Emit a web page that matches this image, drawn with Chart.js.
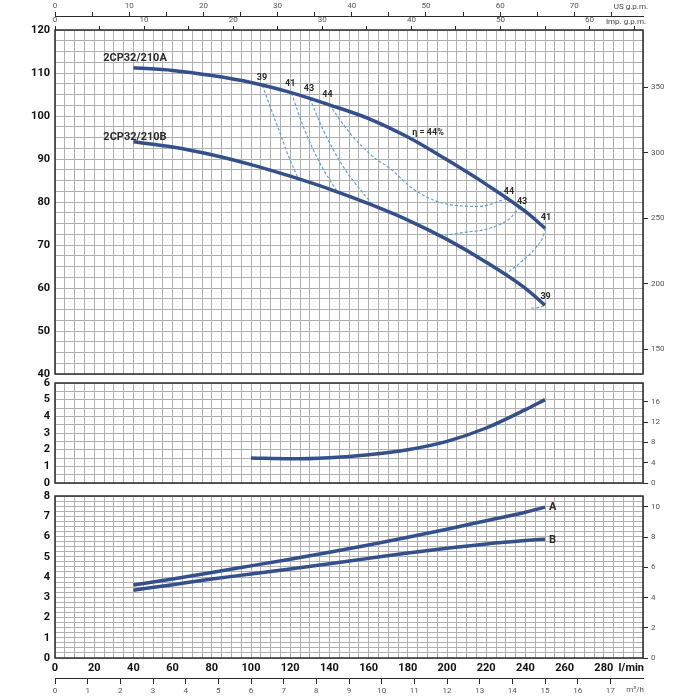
<!DOCTYPE html>
<html lang="en">
<head>
<meta charset="utf-8" />
<title>2CP32/210 performance curves</title>
<script src="https://cdn.jsdelivr.net/npm/chart.js@4.4.1/dist/chart.umd.min.js"></script>
<style>
  body { margin: 0; background: #fff; }
  .panel { position: absolute; left: 0; width: 700px; }
</style>
</head>
<body>
<div class="panel" style="top:0px"><canvas id="chart_head" width="700" height="385"></canvas></div>
<div class="panel" style="top:375px"><canvas id="chart_npsh" width="700" height="115"></canvas></div>
<div class="panel" style="top:488px"><canvas id="chart_power" width="700" height="212"></canvas></div>

<script>
// flow rate, l/min
const flow = [40, 60, 80, 100, 120, 140, 160, 180, 200, 220, 240, 250];
// head, m
const headA = [111.2, 110.6, 109.4, 107.8, 105.5, 102.6, 99.4, 95.1, 89.8, 84.1, 77.8, 73.9];
const headB = [94.0, 92.8, 91.0, 88.7, 86.0, 83.0, 79.6, 75.8, 71.3, 66.0, 59.9, 56.0];
// NPSH, m
const npshFlow = [100, 120, 140, 160, 180, 200, 220, 240, 250];
const npsh = [1.5, 1.45, 1.52, 1.7, 2.0, 2.5, 3.3, 4.4, 5.0];
// absorbed power, kW
const powerA = [3.6, 3.9, 4.22, 4.55, 4.88, 5.22, 5.58, 5.96, 6.36, 6.78, 7.2, 7.45];
const powerB = [3.35, 3.62, 3.9, 4.15, 4.4, 4.65, 4.92, 5.18, 5.42, 5.63, 5.8, 5.87];

// iso-efficiency lines, [l/min, m]
const eff39L = [[105.8, 107.1], [114.8, 96], [119.9, 89.8], [124.2, 85.4]];
const eff41L = [[120.7, 105.3], [126.7, 97.5], [135.2, 89], [143.7, 82.6]];
const eff43L = [[130.1, 104.0], [136.9, 96.7], [147.1, 88.2], [162.4, 79.1]];
const eff44 = [[140, 102.6], [150.5, 96], [162.4, 90.5], [171, 87.8], [182.8, 83], [198.1, 79.7], [216.8, 79], [230.4, 80.8]];
const eff43R = [[196.4, 72.1], [208.3, 72.9], [221.9, 73.9], [232.1, 76.2], [237, 78.7]];
const eff41R = [[229.6, 63.1], [238.9, 66.5], [245.7, 69.6], [249.5, 72.7], [250, 73.9]];
const eff39R = [[243, 55.3], [247, 55.5], [250, 56]];

// labels on the head chart
const effLabelText = ["39", "41", "43", "44", "\u03b7 = 44%", "44", "43", "41", "39"];
const effLabelQ = [105.6, 120, 129.6, 139, 190.3, 231.6, 238.3, 250.5, 250.3];
const effLabelH = [108.8, 107.4, 106.3, 104.9, 96, 82.3, 80, 76.3, 58];

// unit conversions for the secondary axes
const FT = 3.28084;
const USG = 3.785411784;
const IMPG = 4.54609;
const HP = 1.34102;

const INK = "#2b2b2b";
const GRID = "#b0b0b0";
const CURVE = "#33508c";
const DASH = "#5ea2d8";
const narrow = "'Liberation Sans Narrow', Roboto, sans-serif";

// fixed axis sizes, and no extra room for overflowing labels
const fixW = (w) => (s) => { s.width = w; s.paddingTop = 0; s.paddingBottom = 0; };
const fixH = (h) => (s) => { s.height = h; s.paddingLeft = 0; s.paddingRight = 0; };

const pts = (xs, ys) => xs.map((x, i) => ({ x: x, y: ys[i] }));
const pairs = (arr) => arr.map((p) => ({ x: p[0], y: p[1] }));

function curve(data, extra) {
    return Object.assign({
        data: data,
        borderColor: CURVE,
        borderWidth: 3.5,
        pointRadius: 0,
        cubicInterpolationMode: "monotone",
        fill: false,
    }, extra || {});
}

function dashed(data) {
    return curve(data, { borderColor: DASH, borderWidth: 1.2, borderDash: [3, 2] });
}

const framePlugin = {
    id: "frame",
    afterDraw(chart) {
        const a = chart.chartArea;
        const ctx = chart.ctx;
        ctx.save();
        ctx.strokeStyle = INK;
        ctx.lineWidth = 1.5;
        ctx.strokeRect(a.left, a.top, a.right - a.left, a.bottom - a.top);
        ctx.restore();
    },
};

function textPlugin(items) {
    return {
        id: "txt",
        afterDraw(chart) {
            const ctx = chart.ctx;
            ctx.save();
            items.forEach((it) => {
                ctx.font = it.font;
                ctx.fillStyle = it.color || INK;
                ctx.textAlign = it.align || "center";
                ctx.textBaseline = "middle";
                const x = it.px !== undefined ? it.px(chart) : chart.scales.x.getPixelForValue(it.q);
                const y = it.py !== undefined ? it.py(chart) : chart.scales.y.getPixelForValue(it.v);
                ctx.fillText(it.text, x, y);
            });
            ctx.restore();
        },
    };
}

function flowGrid(h, labels) {
    return {
        type: "linear",
        position: "bottom",
        min: 0,
        max: 300,
        grid: { color: GRID, drawTicks: false },
        border: { display: false },
        ticks: {
            display: labels,
            stepSize: 5,
            autoSkip: false,
            maxTicksLimit: 100,
            maxRotation: 0,
            padding: 4,
            color: "#111",
            font: { family: narrow, size: 11, weight: "bold" },
            callback: (v) => (v % 20 === 0 && v < 300 ? v : ""),
        },
        afterFit: fixH(h),
    };
}

function leftAxis(min, max, step, every) {
    return {
        type: "linear",
        position: "left",
        min: min,
        max: max,
        grid: { color: GRID, drawTicks: false },
        border: { display: false },
        ticks: {
            stepSize: step,
            autoSkip: false,
            maxTicksLimit: 100,
            padding: 5,
            color: "#111",
            font: { family: narrow, size: 11, weight: "bold" },
            callback: (v) => (Math.abs(v / every - Math.round(v / every)) < 1e-6 ? v : ""),
        },
        afterFit: fixW(55),
    };
}

function rightAxis(min, max, step) {
    return {
        type: "linear",
        position: "right",
        min: min,
        max: max,
        grid: { drawOnChartArea: false, color: INK, tickLength: 5 },
        border: { display: false },
        ticks: {
            stepSize: step,
            includeBounds: false,
            padding: 3,
            color: "#555",
            font: { family: narrow, size: 8 },
        },
        afterFit: fixW(57),
    };
}

function topAxis(max, weight, h, withBorder) {
    return {
        type: "linear",
        axis: "x",
        position: "top",
        weight: weight,
        min: 0,
        max: max,
        grid: { drawOnChartArea: false, color: INK, tickLength: 4 },
        border: { display: withBorder, color: INK, width: 1 },
        ticks: {
            stepSize: 5,
            includeBounds: false,
            autoSkip: false,
            maxTicksLimit: 100,
            maxRotation: 0,
            padding: 1,
            color: "#555",
            font: { family: narrow, size: 8 },
            callback: (v) => (v % 10 === 0 ? v : ""),
        },
        afterFit: fixH(h),
    };
}

const base = {
    responsive: false,
    animation: false,
    plugins: { legend: { display: false }, tooltip: { enabled: false } },
};

// ---- head chart ----
new Chart(document.getElementById("chart_head"), {
    type: "line",
    data: {
        datasets: [
            curve(pts(flow, headA)),
            curve(pts(flow, headB)),
            dashed(pairs(eff39L)),
            dashed(pairs(eff41L)),
            dashed(pairs(eff43L)),
            dashed(pairs(eff44)),
            dashed(pairs(eff43R)),
            dashed(pairs(eff41R)),
            dashed(pairs(eff39R)),
        ],
    },
    options: Object.assign({}, base, {
        layout: { padding: { top: 0, bottom: 10, left: 0, right: 0 } },
        scales: {
            x: flowGrid(1, false),
            imp: topAxis(300 / IMPG, 0, 14, false),
            us: topAxis(300 / USG, 1, 16, true),
            y: leftAxis(40, 120, 2.5, 10),
            yft: rightAxis(40 * FT, 120 * FT, 50),
        },
    }),
    plugins: [
        framePlugin,
        textPlugin(
            [
                { text: "2CP32/210A", q: 40.8, v: 113.5, font: "bold 11px " + narrow },
                { text: "2CP32/210B", q: 40.8, v: 95.1, font: "bold 11px " + narrow },
                { text: "US g.p.m.", font: "8px " + narrow, color: "#444", align: "right",
                  px: (c) => c.chartArea.right + 5, py: (c) => c.scales.us.bottom - 9 },
                { text: "Imp. g.p.m.", font: "8px " + narrow, color: "#444", align: "right",
                  px: (c) => c.chartArea.right + 3, py: (c) => c.scales.imp.bottom - 8 },
            ].concat(effLabelText.map((t, i) => ({
                text: t, q: effLabelQ[i], v: effLabelH[i], font: "bold 9px " + narrow,
            })))
        ),
    ],
});

// ---- NPSH chart ----
new Chart(document.getElementById("chart_npsh"), {
    type: "line",
    data: { datasets: [curve(pts(npshFlow, npsh))] },
    options: Object.assign({}, base, {
        layout: { padding: { top: 8, bottom: 4, left: 0, right: 0 } },
        scales: {
            x: flowGrid(3, false),
            y: leftAxis(0, 6, 0.5, 1),
            yft: rightAxis(0, 6 * FT, 4),
        },
    }),
    plugins: [framePlugin],
});

// ---- power chart ----
new Chart(document.getElementById("chart_power"), {
    type: "line",
    data: { datasets: [curve(pts(flow, powerA)), curve(pts(flow, powerB))] },
    options: Object.assign({}, base, {
        layout: { padding: { top: 8, bottom: 0, left: 0, right: 0 } },
        scales: {
            x: flowGrid(20, true),
            xm: {
                type: "linear",
                position: "bottom",
                weight: 1,
                min: 0,
                max: 18,
                grid: {
                    drawOnChartArea: false,
                    tickLength: 6,
                    color: (c) => (c.tick && c.tick.value >= 18 ? "rgba(0,0,0,0)" : INK),
                },
                border: { display: true, color: INK, width: 1 },
                ticks: {
                    stepSize: 1,
                    autoSkip: false,
                    maxRotation: 0,
                    padding: 2,
                    color: "#555",
                    font: { family: narrow, size: 8 },
                    callback: (v) => (v < 18 ? Math.round(v) : ""),
                },
                afterFit: fixH(22),
            },
            y: leftAxis(0, 8, 0.25, 1),
            yhp: rightAxis(0, 8 * HP, 2),
        },
    }),
    plugins: [
        framePlugin,
        textPlugin([
            { text: "A", q: 252, v: 7.46, font: "bold 11px " + narrow, align: "left" },
            { text: "B", q: 252, v: 5.83, font: "bold 11px " + narrow, align: "left" },
            { text: "l/min", font: "bold 11px " + narrow, color: "#111", align: "right",
              px: (c) => c.chartArea.right + 1, py: (c) => c.scales.x.top + 10 },
            { text: "m\u00b3/h", font: "8px " + narrow, color: "#555", align: "right",
              px: (c) => c.chartArea.right + 1, py: (c) => c.scales.xm.top + 12 },
        ]),
    ],
});
</script>
</body>
</html>
